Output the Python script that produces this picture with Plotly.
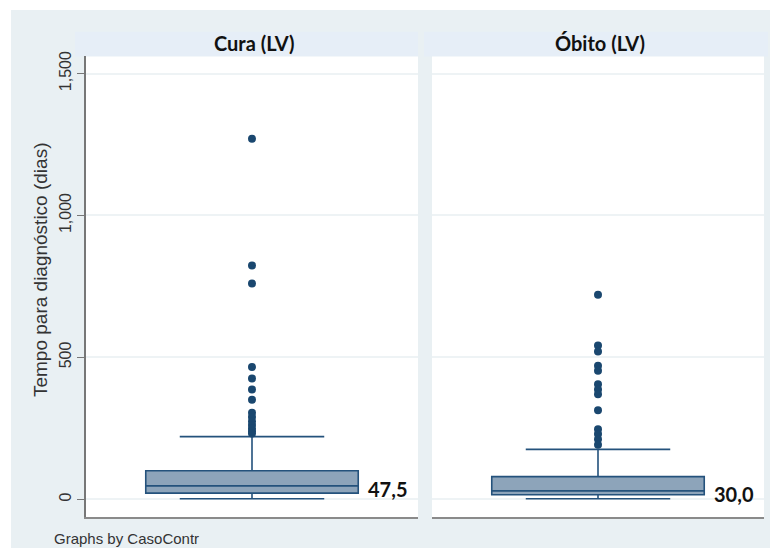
import plotly.graph_objects as go

# ---- data ----
panels = ["Cura (LV)", "Óbito (LV)"]
medians = [47.5, 30.0]
median_labels = ["47,5", "30,0"]
q1s = [22, 16]
q3s = [101, 80]
lower_fences = [2, 2]
upper_fences = [221, 176]
outliers_cura = [1270, 824, 760, 466, 426, 387, 351, 305, 290, 275, 262, 250, 240, 232]
outliers_obito = [721, 542, 521, 471, 453, 405, 387, 370, 314, 247, 230, 212, 192]
y_ticks = [0, 500, 1000, 1500]
y_tick_labels = ["0", "500", "1,000", "1,500"]
y_title = "Tempo para diagnóstico (dias)"
note = "Graphs by CasoContr"

W, H = 778, 550
def fx(px): return px / W
def fy(py): return 1 - py / H

LINE = "#24527c"
FILL = "#8da4ba"
BG = "#e9f0f3"
STRIP = "#e6eef7"
GRID = "#eef3f5"

fig = go.Figure()
outs = [outliers_cura, outliers_obito]
for i in range(2):
    xa = "x" if i == 0 else "x2"
    ya = "y" if i == 0 else "y2"
    fig.add_trace(go.Box(
        x=[0], q1=[q1s[i]], median=[medians[i]], q3=[q3s[i]],
        lowerfence=[lower_fences[i]], upperfence=[upper_fences[i]],
        width=0.64, whiskerwidth=0.68, boxpoints=False,
        fillcolor=FILL, line=dict(color=LINE, width=1.6),
        xaxis=xa, yaxis=ya, showlegend=False, hoverinfo="skip"))
    fig.add_trace(go.Scatter(
        x=[0] * len(outs[i]), y=outs[i], mode="markers",
        marker=dict(color="#1a476f", size=8),
        xaxis=xa, yaxis=ya, showlegend=False, hoverinfo="skip"))

yr = [-63, 1563]
ydom = [fy(517), fy(52)]
common_x = dict(range=[-0.5, 0.5], showticklabels=False, ticks="", showgrid=False,
                zeroline=False, showline=True, linecolor="#8a8a8a", linewidth=1.5)
fig.update_layout(
    width=W, height=H,
    margin=dict(l=0, r=0, t=0, b=0),
    paper_bgcolor="white", plot_bgcolor="rgba(0,0,0,0)",
    xaxis=dict(domain=[fx(86), fx(418)], anchor="y", **common_x),
    xaxis2=dict(domain=[fx(432), fx(764)], anchor="y2", **common_x),
    yaxis=dict(domain=ydom, range=yr, tickvals=y_ticks, ticktext=y_tick_labels,
               tickangle=-90, ticks="outside", ticklen=7, tickcolor="#777",
               showline=True, linecolor="#777", linewidth=1.5,
               showgrid=True, gridcolor=GRID, gridwidth=1.5, zeroline=False,
               tickfont=dict(family="Liberation Sans, Arial", size=16, color="#333"),
               anchor="x"),
    yaxis2=dict(domain=ydom, range=yr, tickvals=y_ticks, showticklabels=False,
                ticks="", showline=False, showgrid=True, gridcolor=GRID,
                gridwidth=1.5, zeroline=False, anchor="x2", matches="y"),
    shapes=[
        dict(type="rect", xref="paper", yref="paper", x0=fx(11), x1=fx(770),
             y0=fy(548), y1=fy(6), fillcolor=BG, line=dict(width=0), layer="below"),
        dict(type="rect", xref="paper", yref="paper", x0=fx(75), x1=fx(418),
             y0=fy(53), y1=fy(28), fillcolor=STRIP, line=dict(width=0), layer="below"),
        dict(type="rect", xref="paper", yref="paper", x0=fx(424), x1=fx(768),
             y0=fy(53), y1=fy(28), fillcolor=STRIP, line=dict(width=0), layer="below"),
        dict(type="rect", xref="paper", yref="paper", x0=fx(86), x1=fx(418),
             y0=fy(517), y1=fy(53), fillcolor="white", line=dict(width=0), layer="below"),
        dict(type="rect", xref="paper", yref="paper", x0=fx(432), x1=fx(764),
             y0=fy(517), y1=fy(53), fillcolor="white", line=dict(width=0), layer="below"),
    ],
)

ann = []
centers = [fx(254), fx(600)]
for i in range(2):
    ann.append(dict(text="<b>%s</b>" % panels[i], x=centers[i], y=fy(39), xref="paper",
                    yref="paper", showarrow=False, xanchor="center", yanchor="middle",
                    font=dict(family="Lato, Open Sans", size=20, color="#111")))
    ann.append(dict(text="<b>%s</b>" % median_labels[i], x=0.843, y=medians[i],
                    xref="x domain" if i == 0 else "x2 domain",
                    yref="y" if i == 0 else "y2", showarrow=False,
                    xanchor="left", yanchor="middle", yshift=-3,
                    font=dict(family="Lato, Open Sans", size=20, color="#111")))
ann.append(dict(text=y_title, x=fx(40), y=fy(268), xref="paper", yref="paper",
                textangle=-90, showarrow=False, xanchor="center", yanchor="middle",
                font=dict(family="Liberation Sans, Arial", size=19, color="#333")))
ann.append(dict(text=note, x=fx(52), y=fy(538), xref="paper", yref="paper",
                showarrow=False, xanchor="left", yanchor="middle",
                font=dict(family="Liberation Sans, Arial", size=15, color="#333")))
fig.update_layout(annotations=ann)

fig.write_html("out.html", config={"displayModeBar": False},
               post_script="document.body.style.margin='0';document.body.style.overflow='hidden';")
